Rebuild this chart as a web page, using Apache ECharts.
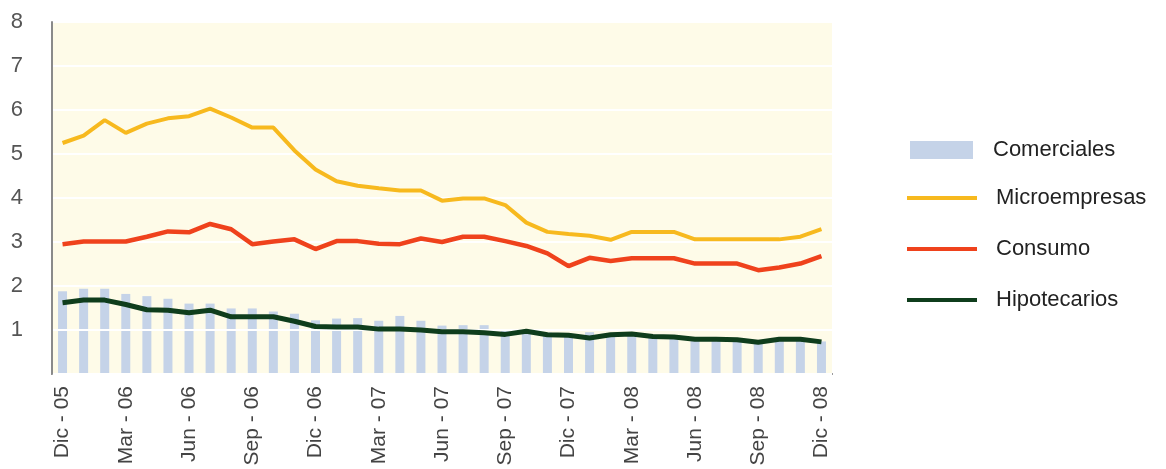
<!DOCTYPE html>
<html>
<head>
<meta charset="utf-8">
<script src="https://cdn.jsdelivr.net/npm/echarts@6/dist/echarts.min.js"></script>
<style>
html,body{margin:0;padding:0;background:#fff;}
#chart{width:1166px;height:469px;}
</style>
</head>
<body>
<div id="chart"></div>
<script>
const categories = [
  "Dic - 05","Ene - 06","Feb - 06","Mar - 06","Abr - 06","May - 06","Jun - 06","Jul - 06","Ago - 06","Sep - 06","Oct - 06","Nov - 06",
  "Dic - 06","Ene - 07","Feb - 07","Mar - 07","Abr - 07","May - 07","Jun - 07","Jul - 07","Ago - 07","Sep - 07","Oct - 07","Nov - 07",
  "Dic - 07","Ene - 08","Feb - 08","Mar - 08","Abr - 08","May - 08","Jun - 08","Jul - 08","Ago - 08","Sep - 08","Oct - 08","Nov - 08",
  "Dic - 08"
];
const comerciales = [1.88,1.94,1.94,1.82,1.77,1.71,1.60,1.60,1.49,1.49,1.42,1.37,
  1.22,1.26,1.27,1.21,1.32,1.21,1.10,1.11,1.11,1.02,1.00,0.94,
  0.89,0.95,0.89,0.89,0.85,0.82,0.78,0.78,0.78,0.72,0.78,0.78,0.74];
const microempresas = [5.25,5.42,5.77,5.48,5.69,5.81,5.86,6.03,5.83,5.60,5.60,5.08,
  4.65,4.38,4.28,4.22,4.17,4.17,3.94,3.99,3.99,3.84,3.44,3.23,
  3.18,3.14,3.05,3.23,3.23,3.23,3.06,3.06,3.06,3.06,3.06,3.12,3.29];
const consumo = [2.95,3.01,3.01,3.01,3.12,3.24,3.22,3.41,3.29,2.95,3.01,3.06,
  2.84,3.02,3.02,2.96,2.95,3.08,3.00,3.12,3.12,3.02,2.91,2.74,
  2.45,2.64,2.57,2.63,2.63,2.63,2.51,2.51,2.51,2.36,2.42,2.51,2.68];
const hipotecarios = [1.62,1.68,1.68,1.58,1.46,1.45,1.39,1.45,1.30,1.30,1.30,1.20,
  1.08,1.07,1.07,1.02,1.02,1.00,0.96,0.96,0.94,0.90,0.97,0.89,
  0.88,0.82,0.89,0.91,0.85,0.84,0.79,0.79,0.78,0.72,0.79,0.79,0.73];
const yTicks = [0,1,2,3,4,5,6,7,8];

const chart = echarts.init(document.getElementById('chart'));
const font = 'Liberation Sans, Arial, sans-serif';
chart.setOption({
  animation: false,
  backgroundColor: '#ffffff',
  grid: {left: 52, right: 334, top: 22, bottom: 95, show: true, backgroundColor: '#fefbe8', borderWidth: 0},
  legend: [
    {
      orient: 'vertical', left: 905, top: 133,
      itemWidth: 63, itemHeight: 18,
      data: [{name: 'Comerciales', icon: 'rect'}],
      textStyle: {fontFamily: font, fontSize: 22, color: '#222', padding: [0,0,0,15], lineHeight: 24}
    },
    {
      orient: 'vertical', left: 902, top: 181,
      itemWidth: 70, itemHeight: 4, itemGap: 27,
      data: [{name: 'Microempresas', icon: 'rect'}, {name: 'Consumo', icon: 'rect'}, {name: 'Hipotecarios', icon: 'rect'}],
      textStyle: {fontFamily: font, fontSize: 22, color: '#222', padding: [0,0,0,14], lineHeight: 24}
    }
  ],
  xAxis: {
    type: 'category',
    data: categories,
    boundaryGap: true,
    axisLine: {lineStyle: {color: '#7a7a7a', width: 2}},
    axisTick: {show: false},
    axisLabel: {interval: 2, rotate: 90, margin: 12, fontFamily: font, fontSize: 21, color: '#444'},
    splitLine: {show: false}
  },
  yAxis: {
    type: 'value',
    min: yTicks[0], max: yTicks[yTicks.length-1], interval: 1,
    z: 1.5,
    axisLine: {show: true, lineStyle: {color: '#8a8a8a', width: 2}},
    axisTick: {show: false},
    axisLabel: {margin: 29, fontFamily: font, fontSize: 22, color: '#555',
      formatter: v => v === 0 ? '' : String(v)},
    splitLine: {show: true, lineStyle: {color: '#ffffff', width: 2}}
  },
  series: [
    {name: 'Comerciales', type: 'bar', data: comerciales, barWidth: 9, z: 1,
      itemStyle: {color: '#c5d3e8'}},
    {name: 'Microempresas', type: 'line', data: microempresas, symbol: 'none', z: 3,
      lineStyle: {color: '#f7b91e', width: 4}, itemStyle: {color: '#f7b91e'}},
    {name: 'Consumo', type: 'line', data: consumo, symbol: 'none', z: 3,
      lineStyle: {color: '#ef421c', width: 4.5}, itemStyle: {color: '#ef421c'}},
    {name: 'Hipotecarios', type: 'line', data: hipotecarios, symbol: 'none', z: 4,
      lineStyle: {color: '#0f3d1c', width: 5}, itemStyle: {color: '#0f3d1c'}}
  ]
});
</script>
</body>
</html>
